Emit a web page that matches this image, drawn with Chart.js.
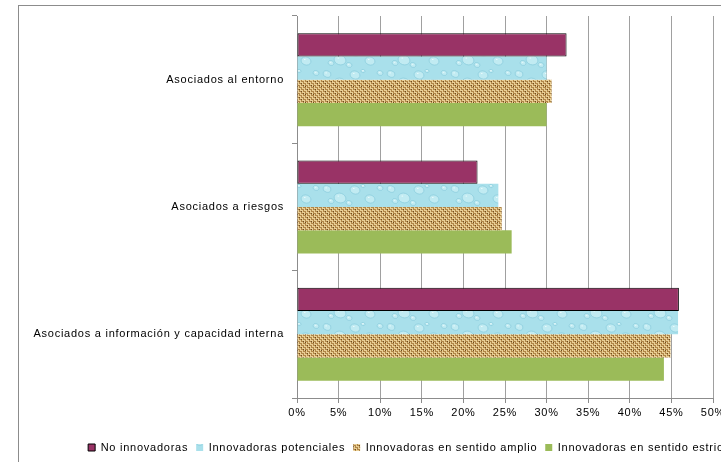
<!DOCTYPE html>
<html lang="es">
<head>
<meta charset="UTF-8">
<title>Obstáculos a la innovación</title>
<script src="https://cdn.jsdelivr.net/npm/chart.js@4"></script>
<style>
  html, body { margin: 0; padding: 0; background: #fff; overflow: hidden; }
  #frame { position: absolute; left: 18px; top: 5px; width: 820px; height: 500px; border: 1px solid #8c8c8c; box-sizing: border-box; }
  #chart { position: absolute; left: 0; top: 0; }
</style>
</head>
<body>
<div id="frame"></div>
<canvas id="chart" width="822" height="463"></canvas>
<script>
// values (percent)
const categories = ['Asociados al entorno', 'Asociados a riesgos', 'Asociados a información y capacidad interna'];
const seriesNames = ['No innovadoras', 'Innovadoras potenciales', 'Innovadoras en sentido amplio', 'Innovadoras en sentido estricto'];
const noInnovadoras = [32.4, 21.7, 45.9];
const potenciales = [30.0, 24.2, 45.8];
const amplio = [30.6, 24.6, 44.9];
const estricto = [30.0, 25.8, 44.1];
const xMin = 0, xMax = 50, xStep = 5;

// textures like the Excel fills
function waterPattern(ctx) {
  const c = document.createElement('canvas');
  c.width = 64; c.height = 23;
  const g = c.getContext('2d');
  g.fillStyle = '#a9e0eb';
  g.fillRect(0, 0, 64, 23);
  const drops = [[7, 5, 4], [20, 14, 6], [35, 6, 5], [50, 15, 5], [60, 4, 3], [29, 19, 3], [11, 17, 3], [43, 2, 2]];
  drops.forEach(([x, y, r]) => {
    g.beginPath();
    g.ellipse(x, y, r, r * 0.8, 0.3, 0, Math.PI * 2);
    g.fillStyle = '#c1ebf2';
    g.fill();
    g.lineWidth = 0.7;
    g.strokeStyle = '#86cadb';
    g.stroke();
    g.fillStyle = '#e8f9fb';
    g.fillRect(x - r * 0.4, y - r * 0.4, 1.5, 1);
  });
  return ctx.createPattern(c, 'repeat');
}

function burlapPattern(ctx) {
  const c = document.createElement('canvas');
  c.width = 8; c.height = 8;
  const g = c.getContext('2d');
  for (let y = 0; y < 8; y++) {
    for (let x = 0; x < 8; x++) {
      const vertical = (Math.floor(x / 2) + Math.floor(y / 2)) % 2 === 0;
      const edge = vertical ? x % 2 : y % 2;
      let col = edge === 0 ? '#e9cf95' : '#b08648';
      if ((x === 3 && y === 1) || (x === 7 && y === 5) || (x === 1 && y === 6) || (x === 5 && y === 3)) col = '#6f4e22';
      g.fillStyle = col;
      g.fillRect(x, y, 1, 1);
    }
  }
  return ctx.createPattern(c, 'repeat');
}

const excelLook = {
  id: 'excelLook',
  beforeUpdate(chart) { chart.ctx.letterSpacing = '0.75px'; },
  beforeDraw(chart) { chart.ctx.letterSpacing = '0.75px'; },
  afterLayout(chart) {
    // legend is centred on the whole frame, not on the plot
    const lg = chart.legend;
    lg.left = 0;
    lg.right = chart.width;
    lg.width = chart.width;
  }
};

window.addEventListener('load', setup);

function setup() {
  const ctx = document.getElementById('chart').getContext('2d');
  Chart.defaults.font.family = '"Liberation Sans", Arial, sans-serif';
  Chart.defaults.font.size = 11;
  Chart.defaults.color = '#000';

  const colors = ['#993366', waterPattern(ctx), burlapPattern(ctx), '#9bbb59'];
  const values = [noInnovadoras, potenciales, amplio, estricto];

  new Chart(ctx, {
    type: 'bar',
    data: {
      labels: categories,
      datasets: seriesNames.map((name, i) => ({
        label: name,
        data: values[i],
        backgroundColor: colors[i],
        borderColor: i === 0 ? '#000' : 'rgba(0,0,0,0)',
        borderWidth: i === 0 ? 1 : 0,
        borderSkipped: false,
        categoryPercentage: 0.73,
        barPercentage: 1
      }))
    },
    options: {
      indexAxis: 'y',
      responsive: false,
      animation: false,
      devicePixelRatio: 1,
      layout: { padding: { left: 0, top: 16, right: 109, bottom: 0 } },
      plugins: {
        tooltip: { enabled: false },
        legend: {
          position: 'bottom',
          labels: { boxWidth: 7, boxHeight: 7, padding: 8, color: '#000' }
        }
      },
      scales: {
        x: {
          min: xMin,
          max: xMax,
          ticks: { stepSize: xStep, padding: 3, callback: v => v + '%', color: '#000' },
          grid: { color: '#a0a0a0', tickLength: 5, tickColor: '#8c8c8c' },
          border: { color: '#8c8c8c' },
          afterFit: s => { s.height = 36; }
        },
        y: {
          ticks: { padding: 8, color: '#000' },
          grid: { drawOnChartArea: false, tickLength: 5, color: '#8c8c8c', offset: true },
          border: { color: '#8c8c8c' },
          afterFit: s => { s.width = 297; }
        }
      }
    },
    plugins: [excelLook]
  });
}
</script>
</body>
</html>
